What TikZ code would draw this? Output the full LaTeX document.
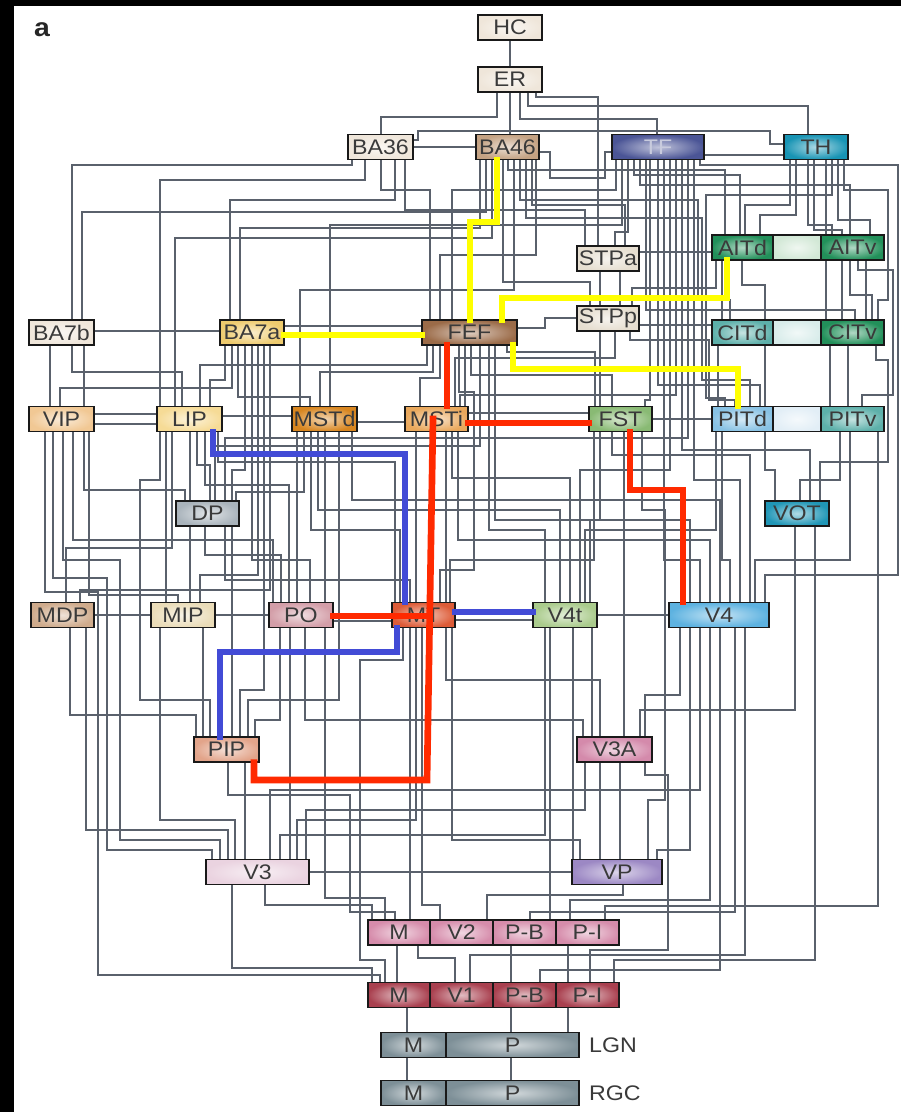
\documentclass[tikz,border=0pt]{standalone}
\usepackage{fontspec}
\setmainfont[FakeStretch=1.1]{Liberation Sans}

\definecolor{cream}{HTML}{EFE6DA}
\definecolor{tanba}{HTML}{C4A283}
\definecolor{tfblue}{HTML}{4B5596}
\definecolor{thteal}{HTML}{1894B4}
\definecolor{stpbeige}{HTML}{E6DED0}
\definecolor{aitgrn}{HTML}{22905A}
\definecolor{aitmid}{HTML}{D2E8D6}
\definecolor{citteal}{HTML}{5DB0AA}
\definecolor{citmid}{HTML}{D8ECEA}
\definecolor{pitblue}{HTML}{88C2E4}
\definecolor{pitmid}{HTML}{E2EEF6}
\definecolor{ba7ayel}{HTML}{EECB6E}
\definecolor{fefbrn}{HTML}{9B6B48}
\definecolor{viporg}{HTML}{F1C894}
\definecolor{lipyel}{HTML}{F6DB96}
\definecolor{mstdorg}{HTML}{D88620}
\definecolor{mstlorg}{HTML}{E9A85C}
\definecolor{fstgrn}{HTML}{89BA74}
\definecolor{dpgray}{HTML}{A9B3BB}
\definecolor{votteal}{HTML}{2096B6}
\definecolor{mdptan}{HTML}{CFAB8C}
\definecolor{mipbeige}{HTML}{EADCB8}
\definecolor{popink}{HTML}{D39EA8}
\definecolor{mtred}{HTML}{DD5C38}
\definecolor{vfttgrn}{HTML}{AACB8C}
\definecolor{vfblue}{HTML}{5DB2E0}
\definecolor{pippink}{HTML}{E2A48A}
\definecolor{vtapink}{HTML}{D48AAB}
\definecolor{vthpink}{HTML}{EAD3E0}
\definecolor{vppurp}{HTML}{9C88C4}
\definecolor{vtwopink}{HTML}{D68CAB}
\definecolor{vonered}{HTML}{A9404F}
\definecolor{lgngray}{HTML}{7D8F97}
\definecolor{wiregray}{HTML}{5A616C}
\definecolor{tdark}{HTML}{3A3A3A}
\definecolor{tlight}{HTML}{C8CBDD}
\definecolor{hiyel}{HTML}{FFFF00}
\definecolor{hired}{HTML}{FF2A00}
\definecolor{hiblue}{HTML}{424BD6}

\pgfdeclarelayer{back}
\pgfdeclarelayer{wires}
\pgfsetlayers{back,wires,main}
\newcommand\pu{0.03cm}

\begin{document}
\begin{tikzpicture}[x=0.03cm, y=-0.03cm,
  area/.style={draw=black!90, line width=1.4pt, inner sep=0pt, minimum height=25*\pu,
    inner color=#1!35!white, outer color=#1, font=\fontsize{18}{18}\selectfont},
  wire/.style={draw=wiregray, line width=1.2pt},
  hi/.style={line width=0.2cm, line cap=rect}]
  \useasboundingbox (0,0) rectangle (901,1112);
  \begin{pgfonlayer}{back}
    \fill[black] (0,0) rectangle (901,1112);
    \fill[white] (14,6) rectangle (901,1112);
  \end{pgfonlayer}

  \node[font=\bfseries\fontsize{22}{22}\selectfont, text=black!85] (panel) at (42,30) {a};

  % areas of the hierarchy
  \foreach \n/\x/\y/\w/\c/\t/\k in {
    HC/510/27.5/64/cream/HC/tdark, ER/510/79.5/64/cream/ER/tdark,
    BA36/380.5/147/65/cream/BA36/tdark, BA46/507.5/147/63/tanba/BA46/tdark,
    TF/658/147/92/tfblue/TF/tlight, TH/816/147/64/thteal/TH/tdark,
    STPa/608/258.5/62/stpbeige/STPa/tdark,
    AITd/742.5/247.5/61/aitgrn/AITd/tdark, AITm/797/247.5/48/aitmid//tdark,
    AITv/852.5/247.5/63/aitgrn/AITv/tdark,
    STPp/608/318.5/62/stpbeige/STPp/tdark,
    BA7b/61.5/332.5/65/cream/BA7b/tdark, BA7a/252/332.5/64/ba7ayel/BA7a/tdark,
    FEF/469.5/332.5/95/fefbrn/FEF/tdark,
    CITd/742.5/332.5/61/citteal/CITd/tdark, CITm/797/332.5/48/citmid//tdark,
    CITv/852.5/332.5/63/aitgrn/CITv/tdark,
    VIP/61.5/419/65/viporg/VIP/tdark, LIP/189.5/419/65/lipyel/LIP/tdark,
    MSTd/324.5/419/65/mstdorg/MSTd/tdark, MSTl/436.5/419/63/mstlorg/MSTi/tdark,
    FST/620.5/419/63/fstgrn/FST/tdark,
    PITd/742.5/419/61/pitblue/PITd/tdark, PITm/797/419/48/pitmid//tdark,
    PITv/852.5/419/63/citteal/PITv/tdark,
    DP/207.5/513.5/63/dpgray/DP/tdark, VOT/797/513.5/64/votteal/VOT/tdark,
    MDP/62.5/615/63/mdptan/MDP/tdark, MIP/183/615/64/mipbeige/MIP/tdark,
    PO/301/615/64/popink/PO/tdark, MT/423.5/615/63/mtred/MT/tdark,
    V4t/565/615/64/vfttgrn/V4t/tdark, V4/719/615/100/vfblue/V4/tdark,
    PIP/226.5/749.5/65/pippink/PIP/tdark, V3A/614.5/749.5/75/vtapink/V3A/tdark,
    V3/257.5/872/103/vthpink/V3/tdark, VP/617/872/90/vppurp/VP/tdark,
    V2M/399/932.5/62/vtwopink/M/tdark, V2c/461.5/932.5/63/vtwopink/V2/tdark,
    V2pb/524.5/932.5/63/vtwopink/P-B/tdark, V2pi/587.5/932.5/63/vtwopink/P-I/tdark,
    V1M/399/995/62/vonered/M/tdark, V1c/461.5/995/63/vonered/V1/tdark,
    V1pb/524.5/995/63/vonered/P-B/tdark, V1pi/587.5/995/63/vonered/P-I/tdark,
    LGNm/413.5/1045/65/lgngray/M/tdark, LGNp/512.5/1045/133/lgngray/P/tdark,
    RGCm/413.5/1093/65/lgngray/M/tdark, RGCp/512.5/1093/133/lgngray/P/tdark}
    \node[area=\c, text=\k, minimum width=\w*\pu] (\n) at (\x,\y) {\t};

  \node[anchor=west, font=\fontsize{18}{18}\selectfont, text=tdark] (lgnlab) at (585,1045) {LGN};
  \node[anchor=west, font=\fontsize{18}{18}\selectfont, text=tdark] (rgclab) at (585,1093) {RGC};

  \begin{pgfonlayer}{wires}
    % source / exit x / first bend / column x / second bend / target / entry x
    \foreach \a/\xa/\ya/\xv/\yb/\b/\xb in {
      HC/510/55/510/55/ER/510,
      ER/497/117/381/117/BA36/381, ER/510/115/510/115/BA46/510,
      ER/520/119/657/119/TF/657, ER/528/106/808/106/TH/808,
      ER/536/97/598/97/STPa/598,
      BA36/352/165/72/165/BA7b/72, BA36/365/180/160/180/LIP/160,
      BA36/381/190/430/190/FEF/430, BA36/395/200/230/200/BA7a/230,
      BA36/405/210/585/210/STPa/585,
      BA46/480/228/240/228/BA7a/240, BA46/486/212/82/212/BA7b/82,
      BA46/492/238/175/238/LIP/175, BA46/503/282/590/282/STPp/590,
      BA46/508/170/725/170/AITd/725, BA46/514/290/300/290/MSTd/300,
      BA46/520/200/698/300/CITd/730, BA46/526/218/702/380/PITd/750,
      BA46/532/205/625/205/STPa/625, BA46/536/255/440/255/FEF/440,
      TF/616/190/452/190/FEF/452, TF/622/225/330/225/MSTd/330,
      TF/628/232/615/232/STPa/615, TF/634/175/740/175/AITd/740,
      TF/640/185/850/185/AITv/850, TF/646/310/855/310/CITv/855,
      TF/650/400/645/400/FST/645, TF/658/385/760/385/PITd/760,
      TF/664/560/700/560/V4/700, TF/670/470/580/470/V4t/580,
      TF/676/395/460/395/MSTl/460, TF/682/450/810/450/VOT/810,
      TF/688/438/225/438/DP/225, TF/694/480/740/480/V4/740,
      TF/700/165/898/575/V4/765,
      TH/790/205/745/205/AITd/745, TH/796/215/760/215/AITd/760,
      TH/808/225/832/225/AITv/832, TH/814/230/842/230/AITv/842,
      TH/826/228/826/228/AITv/826, TH/832/195/706/398/PITd/725,
      TH/838/220/870/220/AITv/870, TH/844/190/888/300/CITv/878,
      AITd/716/288/632/288/STPp/632, AITd/722/300/722/300/CITd/722,
      AITd/742/285/765/285/CITd/765,
      AITv/826/290/826/290/CITv/826, AITv/842/280/842/280/CITv/842,
      AITv/850/295/872/295/CITv/872, AITv/858/270/893/395/PITv/862,
      AITv/866/285/866/285/CITv/866,
      STPa/600/290/600/290/STPp/600, STPa/620/290/620/290/STPp/620,
      STPp/600/370/600/370/FST/600, STPp/615/358/455/358/MSTl/455,
      STPp/630/340/709/400/PITd/735,
      FEF/427/365/200/365/LIP/200, FEF/433/372/320/372/MSTd/320,
      FEF/440/378/420/378/MSTl/420, FEF/459/392/474/570/MT/440,
      FEF/465/400/465/400/MSTl/465, FEF/471/375/612/375/FST/612,
      FEF/480/446/215/446/DP/215, FEF/489/530/545/530/V4t/545,
      FEF/495/520/690/520/V4/690, FEF/507/352/595/352/FST/595,
      BA7b/50/380/50/380/VIP/50, BA7b/84/385/84/385/VIP/84,
      BA7b/72/372/182/372/LIP/182,
      BA7a/225/380/210/380/LIP/210, BA7a/232/388/60/388/VIP/60,
      BA7a/238/397/310/397/MSTd/310, BA7a/245/470/232/470/DP/232,
      BA7a/252/560/310/560/PO/310, BA7a/258/575/200/575/MIP/200,
      BA7a/264/690/240/690/PIP/240, BA7a/270/590/80/590/MDP/80,
      VIP/45/592/98/975/V1M/380, VIP/53/578/107/850/V3/212,
      VIP/63/560/120/840/V3/220, VIP/73/540/273/540/PO/273,
      VIP/84/490/185/490/DP/185, VIP/89/595/178/595/MIP/178,
      LIP/160/480/140/700/PIP/210, LIP/166/590/166/590/MIP/166,
      LIP/172/548/66/548/MDP/66, LIP/190/480/190/480/DP/190,
      LIP/197/465/210/465/DP/210, LIP/205/485/289/485/PO/289,
      LIP/218/462/395/462/MT/395,
      DP/190/560/190/560/MIP/190, DP/205/555/281/555/PO/281,
      DP/225/580/410/580/MT/410, DP/232/720/232/720/PIP/232,
      MSTd/297/500/297/500/PO/297, MSTd/304/492/236/492/DP/236,
      MSTd/311/530/400/530/MT/400, MSTd/318/510/560/510/V4t/560,
      MSTd/325/500/325/500/PO/325, MSTd/339/700/248/700/PIP/248,
      MSTd/352/500/720/500/V4/720,
      MSTl/416/500/416/500/MT/416, MSTl/446/500/446/500/MT/446,
      MSTl/452/478/570/478/V4t/570, MSTl/458/540/710/540/V4/710,
      FST/594/560/450/560/MT/450, FST/600/520/590/520/V4t/590,
      FST/612/455/750/455/V4/750, FST/624/600/624/600/V3A/624,
      FST/642/510/665/800/VP/648,
      CITd/718/380/718/380/PITd/718, CITd/765/380/765/380/PITd/765,
      CITv/830/380/830/380/PITv/830, CITv/848/380/848/380/PITv/848,
      CITv/876/360/888/462/VOT/820,
      PITd/716/530/585/530/V4t/585, PITd/722/560/730/560/V4/730,
      PITd/765/470/775/470/VOT/775, PITv/840/480/800/480/VOT/800,
      PITv/850/560/755/560/V4/755, PITv/878/440/878/906/V2pi/605,
      VOT/795/710/640/710/V3A/640, VOT/815/960/614/960/V1pi/614,
      V4/680/695/645/695/V3A/645, V4/690/850/657/850/VP/657,
      V4/700/790/270/790/V3/270, V4/710/900/570/900/V2pi/570,
      V4/720/970/540/970/V1pb/540, V4/735/912/530/912/V2pb/530,
      V4/745/955/470/955/V1c/470,
      V4t/545/835/280/835/V3/280, V4t/550/700/550/700/V2pb/550,
      V4t/573/700/573/700/VP/573, V4t/592/700/592/700/V3A/592,
      MT/403/660/360/960/V1M/385, MT/410/700/410/700/V2M/410,
      MT/416/820/297/820/V3/297, MT/422/905/440/905/V2c/440,
      MT/446/680/600/680/V3A/600, MT/452/840/580/840/VP/580,
      PO/280/720/255/720/PIP/255, PO/290/800/290/800/V3/290,
      PO/305/720/583/720/V3A/583, PO/325/898/385/898/V2M/385,
      MDP/70/715/196/715/PIP/196, MDP/86/830/228/830/V3/228,
      MIP/160/820/235/820/V3/235, MIP/203/700/203/700/PIP/203,
      PIP/245/800/245/800/V3/245, PIP/228/795/350/912/V2M/395,
      V3A/585/810/306/810/V3/306, V3A/600/800/600/800/VP/600,
      V3A/620/800/620/800/VP/620, V3A/645/775/668/950/V1pi/590,
      V3/232/968/372/968/V1M/372, V3/265/905/372/905/V2M/372,
      VP/623/895/487/895/V2c/487,
      V2M/397/960/397/960/V1M/397, V2M/418/958/455/958/V1c/455,
      V2pb/511/960/511/960/V1pb/511, V2pi/568/960/568/960/V1pi/568,
      V1M/407/1020/407/1020/LGNm/407, V1pb/511/1020/511/1020/LGNp/511,
      V1pi/568/1020/568/1020/LGNp/568,
      LGNm/407/1070/407/1070/RGCm/407, LGNp/511/1070/511/1070/RGCp/511}
      \draw[wire] (\a.south -| \xa,0) -- (\xa,\ya) -- (\xv,\ya) -- (\xv,\yb) -- (\xb,\yb) -- (\b.north -| \xb,0);

    % side links
    \draw[wire] (BA36.east) -- (BA46.west);
    \draw[wire] (BA36.east |- 0,140) -- (418,140) -- (418,131) -- (770,131) -- (770,144) -- (TH.west |- 0,144);
    \draw[wire] (BA46.east |- 0,152) -- (550,152) -- (550,178) -- (605,178) -- (605,152) -- (TF.west |- 0,152);
    \draw[wire] (TF.east |- 0,155) -- (TH.west |- 0,155);
    \draw[wire] (STPa.east |- 0,252) -- (AITd.west |- 0,252);
    \draw[wire] (STPp.east |- 0,325) -- (CITd.west |- 0,325);
    \draw[wire] (BA7b.east |- 0,331) -- (BA7a.west |- 0,331);
    \draw[wire] (BA7a.east |- 0,326) -- (FEF.west |- 0,326);
    \draw[wire] (FEF.east |- 0,328) -- (545,328) -- (545,318) -- (STPp.west |- 0,318);
    \draw[wire] (VIP.east |- 0,414) -- (LIP.west |- 0,414);
    \draw[wire] (VIP.east |- 0,424) -- (LIP.west |- 0,424);
    \draw[wire] (LIP.east |- 0,416) -- (MSTd.west |- 0,416);
    \draw[wire] (MSTd.east |- 0,422) -- (MSTl.west |- 0,422);
    \draw[wire] (MSTl.east |- 0,413) -- (FST.west |- 0,413);
    \draw[wire] (FST.east) -- (PITd.west);
    \draw[wire] (MDP.east) -- (MIP.west);
    \draw[wire] (MIP.east) -- (PO.west);
    \draw[wire] (PO.east |- 0,621) -- (MT.west |- 0,621);
    \draw[wire] (MT.east |- 0,620) -- (V4t.west |- 0,620);
    \draw[wire] (V4t.east) -- (V4.west);
    \draw[wire] (V3.east) -- (VP.west);
  \end{pgfonlayer}

  % highlighted streams
  \draw[hi, hiyel] (BA46.south -| 497,0) -- (497,222) -- (470,222) -- (FEF.north -| 470,0);
  \draw[hi, hiyel] (BA7a.east |- 0,335) -- (FEF.west |- 0,335);
  \draw[hi, hiyel] (AITd.south -| 727,0) -- (727,298) -- (502,298) -- (FEF.north -| 502,0);
  \draw[hi, hiyel] (FEF.south -| 513,0) -- (513,369) -- (738,369) -- (PITd.north -| 738,0);

  \coordinate (rjoin) at (430,616);
  \draw[hi, hired] (FEF.south -| 447,0) -- (MSTl.north -| 447,0);
  \draw[hi, hired] (MSTl.east |- 0,423) -- (FST.west |- 0,423);
  \draw[hi, hired] (FST.south -| 630,0) -- (630,490) -- (683,490) -- (V4.north -| 683,0);
  \draw[hi, hired] (MSTl.center -| 433,0) -- (427,780) -- (254,780) -- (PIP.south -| 254,0);
  \draw[hi, hired] (PO.east |- 0,616) -- (rjoin);

  \draw[hi, hiblue] (LIP.south -| 213,0) -- (213,454) -- (405,454) -- (MT.north -| 405,0);
  \draw[hi, hiblue] (MT.east |- 0,612) -- (V4t.west |- 0,612);
  \draw[hi, hiblue] (MT.south -| 397,0) -- (397,652) -- (220,652) -- (PIP.north -| 220,0);
\end{tikzpicture}
\end{document}
